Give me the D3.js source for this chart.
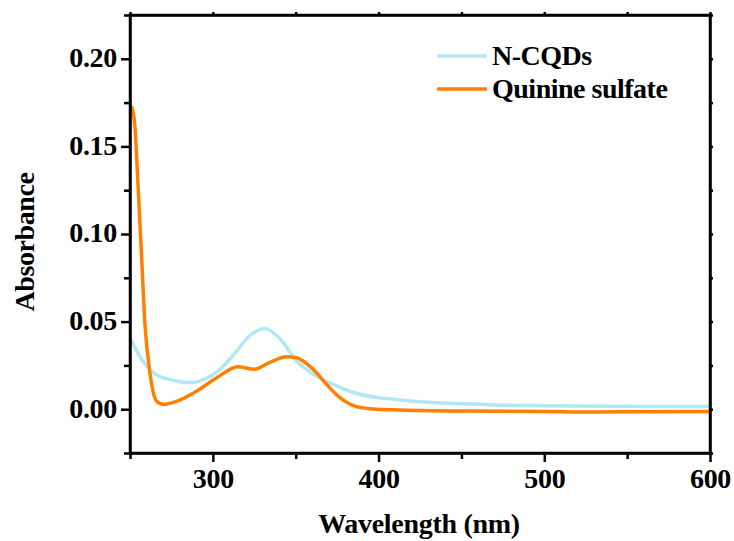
<!DOCTYPE html>
<html>
<head>
<meta charset="utf-8">
<script src="https://cdn.jsdelivr.net/npm/d3@7"></script>
<style>
  html, body { margin: 0; padding: 0; background: #fff; }
  svg { display: block; }
  text { font-family: "Liberation Serif", "Times New Roman", serif; font-weight: bold; fill: #000; }
</style>
</head>
<body>
<svg id="chart" width="734" height="541"></svg>
<script>
// Absorption spectra (wavelength in nm, absorbance)
const ncqdWl  = [250, 257, 264, 273, 287, 292, 302, 312, 322, 331, 340, 350.5, 360.5, 372.6, 388.7, 412.8, 430, 450, 463, 473, 500, 550, 600];
const ncqdAbs = [0.0408, 0.0285, 0.0209, 0.0171, 0.0152, 0.0161, 0.0209, 0.0304, 0.0417, 0.0461, 0.0408, 0.0275, 0.0200, 0.0142, 0.0085, 0.0053, 0.0040, 0.0031, 0.0028, 0.0023, 0.0020, 0.0017, 0.0015];

const qsWl  = [250, 251, 252, 253, 255, 257, 259, 262, 266, 270, 278, 287, 292, 304, 315, 325, 334, 344.5, 350.5, 360.5, 368.6, 376.7, 386.7, 398.8, 412.8, 450, 500, 530, 560, 600];
const qsAbs = [0.173, 0.1722, 0.169, 0.161, 0.125, 0.087, 0.049, 0.021, 0.0047, 0.0028, 0.0045, 0.0085, 0.0114, 0.019, 0.0243, 0.0228, 0.0266, 0.0300, 0.0294, 0.0228, 0.0142, 0.0066, 0.0015, 0.0000, -0.0004, -0.0010, -0.0013, -0.0016, -0.0014, -0.0013];

const seriesNames = ["N-CQDs", "Quinine sulfate"];
const seriesColors = ["#b3e7f3", "#ff8000"];

const xMajorTicks = [300, 400, 500, 600];
const xMinorTicks = [250, 350, 450, 550];
const yMajorTicks = [0.00, 0.05, 0.10, 0.15, 0.20];
const yMinorTicks = [-0.025, 0.025, 0.075, 0.125, 0.175, 0.225];

const svg = d3.select("#chart");
const L = 130, R = 710, T = 15, B = 453;

const x = d3.scaleLinear().domain([250, 600]).range([L, R]);
const y = d3.scaleLinear().domain([-0.025, 0.225]).range([B, T]);

const fmtY = d3.format(".2f");

// Data curves (drawn under the frame)
const line = d3.line()
  .x(d => x(d[0]))
  .y(d => y(d[1]))
  .curve(d3.curveMonotoneX);

const series = [
  d3.zip(ncqdWl, ncqdAbs),
  d3.zip(qsWl, qsAbs)
];

svg.append("g").selectAll("path")
  .data(series)
  .join("path")
  .attr("d", line)
  .attr("fill", "none")
  .attr("stroke", (d, i) => seriesColors[i])
  .attr("stroke-width", 3.5)
  .attr("stroke-linejoin", "round");

// Axes
function styleAxis(g) {
  g.select(".domain").attr("stroke", "#000").attr("stroke-width", 2.5);
  g.selectAll(".tick line").attr("stroke", "#000").attr("stroke-width", 2.5);
}
function styleLabels(g) {
  g.selectAll(".tick text")
    .attr("font-size", 28)
    .attr("letter-spacing", "-0.3px")
    .attr("font-family", "Liberation Serif")
    .attr("font-weight", "bold");
}

// bottom: major
svg.append("g")
  .attr("transform", `translate(0,${B})`)
  .call(d3.axisBottom(x).tickValues(xMajorTicks).tickSize(9).tickSizeOuter(0).tickPadding(6).tickFormat(d3.format("d")))
  .call(styleAxis)
  .call(styleLabels);
// bottom: minor
svg.append("g")
  .attr("transform", `translate(0,${B})`)
  .call(d3.axisBottom(x).tickValues(xMinorTicks).tickSize(6).tickSizeOuter(0).tickFormat(""))
  .call(styleAxis)
  .call(g => g.select(".domain").remove());

// left: major
svg.append("g")
  .attr("transform", `translate(${L},0)`)
  .call(d3.axisLeft(y).tickValues(yMajorTicks).tickSize(9).tickSizeOuter(0).tickPadding(4).tickFormat(fmtY))
  .call(styleAxis)
  .call(styleLabels)
  .call(g => g.selectAll(".tick text").attr("dy", "0.28em"));
// left: minor
svg.append("g")
  .attr("transform", `translate(${L},0)`)
  .call(d3.axisLeft(y).tickValues(yMinorTicks).tickSize(6).tickSizeOuter(0).tickFormat(""))
  .call(styleAxis)
  .call(g => g.select(".domain").remove());

// top and right mirror axes with short outward ticks
svg.append("g")
  .attr("transform", `translate(0,${T})`)
  .call(d3.axisTop(x).tickValues(xMajorTicks.concat(xMinorTicks)).tickSize(3).tickSizeOuter(0).tickFormat(""))
  .call(styleAxis);
svg.append("g")
  .attr("transform", `translate(${R},0)`)
  .call(d3.axisRight(y).tickValues(yMajorTicks.concat(yMinorTicks)).tickSize(3).tickSizeOuter(0).tickFormat(""))
  .call(styleAxis);

// Square off the frame corners
svg.append("rect")
  .attr("x", L).attr("y", T)
  .attr("width", R - L).attr("height", B - T)
  .attr("fill", "none")
  .attr("stroke", "#000")
  .attr("stroke-width", 2.5);

// Axis titles
svg.append("text")
  .attr("x", (L + R) / 2 - 1)
  .attr("y", 533)
  .attr("text-anchor", "middle")
  .attr("font-size", 28)
  .attr("letter-spacing", "-0.3px")
  .text("Wavelength (nm)");

svg.append("text")
  .attr("transform", `translate(34,${(T + B) / 2 + 8}) rotate(-90)`)
  .attr("text-anchor", "middle")
  .attr("font-size", 28)
  .attr("letter-spacing", "-0.4px")
  .text("Absorbance");

// Legend
const legend = svg.append("g");
seriesNames.forEach((name, i) => {
  const ly = 56 + i * 33;
  legend.append("line")
    .attr("x1", 437).attr("x2", 487)
    .attr("y1", ly).attr("y2", ly)
    .attr("stroke", seriesColors[i])
    .attr("stroke-width", 3.5);
  legend.append("text")
    .attr("x", 492)
    .attr("y", ly + 9)
    .attr("font-size", 28)
    .attr("letter-spacing", "-0.5px")
    .text(name);
});
</script>
</body>
</html>
